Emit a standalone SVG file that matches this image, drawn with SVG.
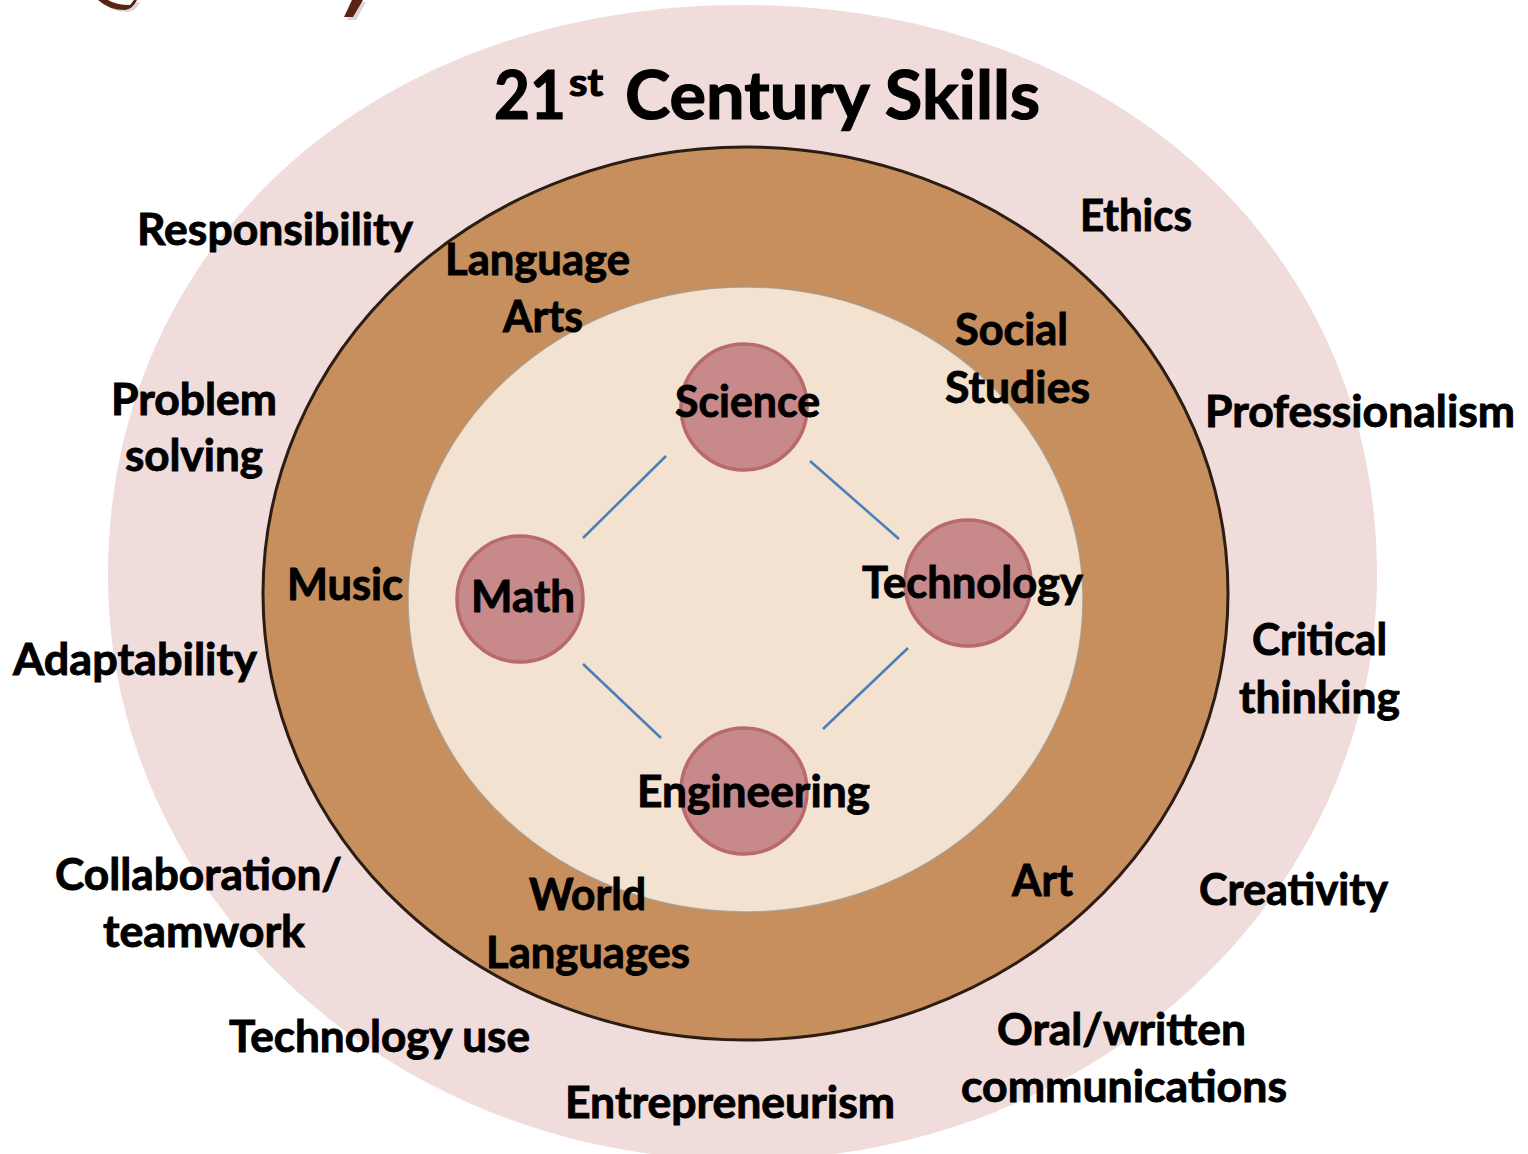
<svg xmlns="http://www.w3.org/2000/svg" width="1528" height="1154" viewBox="0 0 1528 1154">
<defs>
<style>
.t{font-family:Lato,'Liberation Sans',sans-serif;font-weight:700;font-size:43px;fill:#000;stroke:#000;stroke-width:0.9px}
.node{fill:#c7898a;stroke:#b8696c;stroke-width:3.5}
.conn{stroke:#4a7dbd;stroke-width:2.5;fill:none}
</style>
</defs>
<rect width="1528" height="1154" fill="#ffffff"/>
<g id="title-fragment">
<path d="M101 2 L111 2 Q119 7 133 7 L137 2 L140 2 Q136 11 128 12 Q112 12 101 2 Z" fill="#bbbbbb" opacity="0.6"/>
<path d="M355 2 L366 2 L356 20 L347 20 Z" fill="#bbbbbb" opacity="0.6"/>
<path d="M98 0 L108 0 Q116 5 130 5 L134 0 L137 0 Q133 9 125 10 Q109 10 98 0 Z" fill="#5b2314"/>
<path d="M352 0 L363 0 L353 17 L344 17 Z" fill="#5b2314"/>
</g>
<g id="outer-ring">
<path d="M742.5 5 C374.5 5 108 244.4 108 575 C108 898 392 1160 742.5 1160 C1093 1160 1377 898 1377 575 C1377 244.4 1110.5 5 742.5 5 Z" fill="#f1dcdc"/>
</g>
<g id="middle-ring">
<ellipse cx="745.5" cy="593.5" rx="482.5" ry="446.5" fill="#c68f5d" stroke="#2b1d12" stroke-width="3"/>
</g>
<g id="inner-core">
<ellipse cx="745.5" cy="599.5" rx="337.5" ry="312.5" fill="#f2e2cf" stroke="#a39a90" stroke-width="1.5" stroke-opacity="0.8"/>
</g>
<g id="title">
<text class="t" y="119" style="font-size:67px;stroke-width:1.2px"><tspan x="494" textLength="72" lengthAdjust="spacingAndGlyphs">21</tspan><tspan x="569" y="96" style="font-size:38px" textLength="34" lengthAdjust="spacingAndGlyphs">st</tspan><tspan x="625" y="119" textLength="415" lengthAdjust="spacingAndGlyphs">Century Skills</tspan></text>
</g>
<g id="connectors">
<line class="conn" x1="666" y1="456" x2="583" y2="538"/>
<line class="conn" x1="810" y1="461" x2="899" y2="539"/>
<line class="conn" x1="583" y1="664" x2="661" y2="738"/>
<line class="conn" x1="908" y1="648" x2="823" y2="729"/>
</g>
<g id="node-science">
<circle class="node" cx="744" cy="407" r="63"/>
<text class="t" x="675" y="417" textLength="145" lengthAdjust="spacingAndGlyphs">Science</text>
</g>
<g id="node-math">
<circle class="node" cx="520" cy="599" r="63"/>
<text class="t" x="471" y="612" textLength="104" lengthAdjust="spacingAndGlyphs">Math</text>
</g>
<g id="node-technology">
<circle class="node" cx="968" cy="583" r="63"/>
<text class="t" x="862" y="598" textLength="221" lengthAdjust="spacingAndGlyphs">Technology</text>
</g>
<g id="node-engineering">
<circle class="node" cx="744" cy="791" r="63"/>
<text class="t" x="637" y="807" textLength="233" lengthAdjust="spacingAndGlyphs">Engineering</text>
</g>
<g id="subject-language-arts">
<text class="t" x="445" y="275" textLength="185" lengthAdjust="spacingAndGlyphs">Language</text>
<text class="t" x="503" y="332" textLength="80" lengthAdjust="spacingAndGlyphs">Arts</text>
</g>
<g id="subject-social-studies">
<text class="t" x="955" y="345" textLength="113" lengthAdjust="spacingAndGlyphs">Social</text>
<text class="t" x="945" y="403" textLength="145" lengthAdjust="spacingAndGlyphs">Studies</text>
</g>
<g id="subject-music">
<text class="t" x="287" y="600" textLength="116" lengthAdjust="spacingAndGlyphs">Music</text>
</g>
<g id="subject-world-languages">
<text class="t" x="529" y="910" textLength="117" lengthAdjust="spacingAndGlyphs">World</text>
<text class="t" x="486" y="968" textLength="204" lengthAdjust="spacingAndGlyphs">Languages</text>
</g>
<g id="subject-art">
<text class="t" x="1012" y="896" textLength="61" lengthAdjust="spacingAndGlyphs">Art</text>
</g>
<g id="skill-responsibility">
<text class="t" x="137" y="245" textLength="276" lengthAdjust="spacingAndGlyphs">Responsibility</text>
</g>
<g id="skill-ethics">
<text class="t" x="1080" y="231" textLength="112" lengthAdjust="spacingAndGlyphs">Ethics</text>
</g>
<g id="skill-problem-solving">
<text class="t" x="111" y="415" textLength="166" lengthAdjust="spacingAndGlyphs">Problem</text>
<text class="t" x="125" y="471" textLength="138" lengthAdjust="spacingAndGlyphs">solving</text>
</g>
<g id="skill-professionalism">
<text class="t" x="1205" y="427" textLength="310" lengthAdjust="spacingAndGlyphs">Professionalism</text>
</g>
<g id="skill-adaptability">
<text class="t" x="13" y="675" textLength="244" lengthAdjust="spacingAndGlyphs">Adaptability</text>
</g>
<g id="skill-critical-thinking">
<text class="t" x="1252" y="655" textLength="135" lengthAdjust="spacingAndGlyphs">Critical</text>
<text class="t" x="1239" y="713" textLength="161" lengthAdjust="spacingAndGlyphs">thinking</text>
</g>
<g id="skill-collaboration">
<text class="t" x="55" y="890" textLength="287" lengthAdjust="spacingAndGlyphs">Collaboration/</text>
<text class="t" x="103" y="947" textLength="202" lengthAdjust="spacingAndGlyphs">teamwork</text>
</g>
<g id="skill-creativity">
<text class="t" x="1199" y="905" textLength="189" lengthAdjust="spacingAndGlyphs">Creativity</text>
</g>
<g id="skill-technology-use">
<text class="t" x="229" y="1052" textLength="301" lengthAdjust="spacingAndGlyphs">Technology use</text>
</g>
<g id="skill-communications">
<text class="t" x="997" y="1045" textLength="249" lengthAdjust="spacingAndGlyphs">Oral/written</text>
<text class="t" x="961" y="1102" textLength="326" lengthAdjust="spacingAndGlyphs">communications</text>
</g>
<g id="skill-entrepreneurism">
<text class="t" x="565" y="1118" textLength="330" lengthAdjust="spacingAndGlyphs">Entrepreneurism</text>
</g>
</svg>
